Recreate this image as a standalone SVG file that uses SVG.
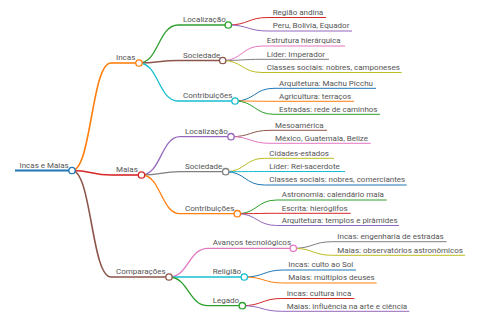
<svg xmlns="http://www.w3.org/2000/svg" width="480" height="320" viewBox="0 0 480 320">
<style>
text{font-family:Roboto,"Liberation Sans",sans-serif;font-size:8px;fill:#555}
path,line{fill:none}
circle{fill:#fff;stroke-width:1.3}
.c0{stroke:#1f77b4}.c1{stroke:#ff7f0e}.c2{stroke:#2ca02c}.c3{stroke:#d62728}.c4{stroke:#9467bd}
.c5{stroke:#8c564b}.c6{stroke:#e377c2}.c7{stroke:#7f7f7f}.c8{stroke:#bcbd22}.c9{stroke:#17becf}
.w0{stroke-width:2}.w1{stroke-width:1.6}.w2{stroke-width:1.3}.w3{stroke-width:1}
</style>
<rect width="480" height="320" fill="#fff"/>
<g id="connectors">
<path class="c1 w1" d="M72,170.5 C91.5,170.5 91.5,63 111,63"/>
<path class="c3 w1" d="M72,170.5 C91.5,170.5 91.5,175 111,175"/>
<path class="c5 w1" d="M72,170.5 C91.5,170.5 91.5,277 111,277"/>
<path class="c2 w2" d="M139,63 C158.5,63 158.5,25 178,25"/>
<path class="c5 w2" d="M139,63 C158.5,63 158.5,60.5 178,60.5"/>
<path class="c9 w2" d="M139,63 C158.5,63 158.5,101 178,101"/>
<path class="c4 w2" d="M141.5,175 C161,175 161,136.7 180,136.7"/>
<path class="c7 w2" d="M141.5,175 C161,175 161,171.7 180,171.7"/>
<path class="c1 w2" d="M141.5,175 C161,175 161,213.7 180,213.7"/>
<path class="c6 w2" d="M169,277 C188.5,277 188.5,248.3 208,248.3"/>
<path class="c9 w2" d="M169,277 C188.5,277 188.5,277 208,277"/>
<path class="c2 w2" d="M169,277 C188.5,277 188.5,305.7 208,305.7"/>
<path class="c3 w3" d="M228.3,25 C248,25 248,17.5 268,17.5"/>
<path class="c4 w3" d="M228.3,25 C248,25 248,31 268,31"/>
<path class="c6 w3" d="M222.7,60.5 C242,60.5 242,46 262,46"/>
<path class="c7 w3" d="M222.7,60.5 C242,60.5 242,59.3 262,59.3"/>
<path class="c8 w3" d="M222.7,60.5 C242,60.5 242,72.5 262,72.5"/>
<path class="c0 w3" d="M235,101 C254.5,101 254.5,88.3 274,88.3"/>
<path class="c1 w3" d="M235,101 C254.5,101 254.5,101.3 274,101.3"/>
<path class="c2 w3" d="M235,101 C254.5,101 254.5,114.3 274,114.3"/>
<path class="c5 w3" d="M231,136.7 C250.5,136.7 250.5,130.3 270,130.3"/>
<path class="c6 w3" d="M231,136.7 C250.5,136.7 250.5,143.3 270,143.3"/>
<path class="c8 w3" d="M225.7,171.7 C245,171.7 245,158.3 264.3,158.3"/>
<path class="c9 w3" d="M225.7,171.7 C245,171.7 245,171.5 264.3,171.5"/>
<path class="c0 w3" d="M225.7,171.7 C245,171.7 245,185 264.3,185"/>
<path class="c2 w3" d="M237.3,213.7 C257,213.7 257,200 276.7,200"/>
<path class="c3 w3" d="M237.3,213.7 C257,213.7 257,213.3 276.7,213.3"/>
<path class="c4 w3" d="M237.3,213.7 C257,213.7 257,225.5 276.7,225.5"/>
<path class="c7 w3" d="M293.3,248.3 C313,248.3 313,241.7 332.3,241.7"/>
<path class="c8 w3" d="M293.3,248.3 C313,248.3 313,255.3 332.3,255.3"/>
<path class="c0 w3" d="M244.3,277 C264,277 264,270 283.3,270"/>
<path class="c1 w3" d="M244.3,277 C264,277 264,283 283.3,283"/>
<path class="c3 w3" d="M242.3,305.7 C262,305.7 262,298.5 281.7,298.5"/>
<path class="c4 w3" d="M242.3,305.7 C262,305.7 262,311.3 281.7,311.3"/>
</g>
<g id="n-root"><line class="c0 w0" x1="15" y1="170.5" x2="72" y2="170.5"/><circle class="c0" cx="72" cy="170.5" r="3.2"/><text x="19.5" y="167.5">Incas e Maias</text></g>
<g id="n-incas"><line class="c1 w1" x1="111" y1="63" x2="139" y2="63"/><circle class="c1" cx="139" cy="63" r="3.2"/><text x="116" y="60">Incas</text></g>
<g id="n-maias"><line class="c3 w1" x1="111" y1="175" x2="141.5" y2="175"/><circle class="c3" cx="141.5" cy="175" r="3.2"/><text x="116" y="172">Maias</text></g>
<g id="n-comp"><line class="c5 w1" x1="111" y1="277" x2="169" y2="277"/><circle class="c5" cx="169" cy="277" r="3.2"/><text x="116" y="274">Comparações</text></g>
<g id="n-i-loc"><line class="c2 w2" x1="178" y1="25" x2="228.3" y2="25"/><circle class="c2" cx="228.3" cy="25" r="3.2"/><text x="183" y="22">Localização</text></g>
<g id="n-i-soc"><line class="c5 w2" x1="178" y1="60.5" x2="222.7" y2="60.5"/><circle class="c5" cx="222.7" cy="60.5" r="3.2"/><text x="183" y="57.5">Sociedade</text></g>
<g id="n-i-con"><line class="c9 w2" x1="178" y1="101" x2="235" y2="101"/><circle class="c9" cx="235" cy="101" r="3.2"/><text x="183" y="98">Contribuições</text></g>
<g id="n-m-loc"><line class="c4 w2" x1="180" y1="136.7" x2="231" y2="136.7"/><circle class="c4" cx="231" cy="136.7" r="3.2"/><text x="185" y="133.7">Localização</text></g>
<g id="n-m-soc"><line class="c7 w2" x1="180" y1="171.7" x2="225.7" y2="171.7"/><circle class="c7" cx="225.7" cy="171.7" r="3.2"/><text x="185" y="168.7">Sociedade</text></g>
<g id="n-m-con"><line class="c1 w2" x1="180" y1="213.7" x2="237.3" y2="213.7"/><circle class="c1" cx="237.3" cy="213.7" r="3.2"/><text x="185" y="210.7">Contribuições</text></g>
<g id="n-c-ava"><line class="c6 w2" x1="208" y1="248.3" x2="293.3" y2="248.3"/><circle class="c6" cx="293.3" cy="248.3" r="3.2"/><text x="212.7" y="245.3">Avanços tecnológicos</text></g>
<g id="n-c-rel"><line class="c9 w2" x1="208" y1="277" x2="244.3" y2="277"/><circle class="c9" cx="244.3" cy="277" r="3.2"/><text x="212.7" y="274">Religião</text></g>
<g id="n-c-leg"><line class="c2 w2" x1="208" y1="305.7" x2="242.3" y2="305.7"/><circle class="c2" cx="242.3" cy="305.7" r="3.2"/><text x="212.7" y="302.7">Legado</text></g>
<g id="l1"><line class="c3 w3" x1="268" y1="17.5" x2="326" y2="17.5"/><text x="272.7" y="15">Região andina</text></g>
<g id="l2"><line class="c4 w3" x1="268" y1="31" x2="352" y2="31"/><text x="272.7" y="28.3">Peru, Bolívia, Equador</text></g>
<g id="l3"><line class="c6 w3" x1="262" y1="46" x2="345" y2="46"/><text x="266.7" y="43.3">Estrutura hierárquica</text></g>
<g id="l4"><line class="c7 w3" x1="262" y1="59.3" x2="329" y2="59.3"/><text x="266.7" y="56.6">Líder: Imperador</text></g>
<g id="l5"><line class="c8 w3" x1="262" y1="72.5" x2="401.7" y2="72.5"/><text x="266.7" y="69.8">Classes sociais: nobres, camponeses</text></g>
<g id="l6"><line class="c0 w3" x1="274" y1="88.3" x2="376" y2="88.3"/><text x="279" y="85.6">Arquitetura: Machu Picchu</text></g>
<g id="l7"><line class="c1 w3" x1="274" y1="101.3" x2="354" y2="101.3"/><text x="279" y="98.6">Agricultura: terraços</text></g>
<g id="l8"><line class="c2 w3" x1="274" y1="114.3" x2="380" y2="114.3"/><text x="279" y="111.6">Estradas: rede de caminhos</text></g>
<g id="l9"><line class="c5 w3" x1="270" y1="130.3" x2="327" y2="130.3"/><text x="275" y="127.6">Mesoamérica</text></g>
<g id="l10"><line class="c6 w3" x1="270" y1="143.3" x2="370.7" y2="143.3"/><text x="275" y="140.6">México, Guatemala, Belize</text></g>
<g id="l11"><line class="c8 w3" x1="264.3" y1="158.3" x2="334" y2="158.3"/><text x="269.3" y="155.6">Cidades-estados</text></g>
<g id="l12"><line class="c9 w3" x1="264.3" y1="171.5" x2="345" y2="171.5"/><text x="269.3" y="168.8">Líder: Rei-sacerdote</text></g>
<g id="l13"><line class="c0 w3" x1="264.3" y1="185" x2="406.7" y2="185"/><text x="269.3" y="182.3">Classes sociais: nobres, comerciantes</text></g>
<g id="l14"><line class="c2 w3" x1="276.7" y1="200" x2="386.7" y2="200"/><text x="281.7" y="197.3">Astronomia: calendário maia</text></g>
<g id="l15"><line class="c3 w3" x1="276.7" y1="213.3" x2="350.7" y2="213.3"/><text x="281.7" y="210.6">Escrita: hieróglifos</text></g>
<g id="l16"><line class="c4 w3" x1="276.7" y1="225.5" x2="399" y2="225.5"/><text x="281.7" y="222.8">Arquitetura: templos e pirâmides</text></g>
<g id="l17"><line class="c7 w3" x1="332.3" y1="241.7" x2="446.7" y2="241.7"/><text x="337.3" y="239">Incas: engenharia de estradas</text></g>
<g id="l18"><line class="c8 w3" x1="332.3" y1="255.3" x2="465" y2="255.3"/><text x="337.3" y="252.6">Maias: observatórios astronômicos</text></g>
<g id="l19"><line class="c0 w3" x1="283.3" y1="270" x2="356" y2="270"/><text x="288.3" y="267.3">Incas: culto ao Sol</text></g>
<g id="l20"><line class="c1 w3" x1="283.3" y1="283" x2="376.7" y2="283"/><text x="288.3" y="280.3">Maias: múltiplos deuses</text></g>
<g id="l21"><line class="c3 w3" x1="281.7" y1="298.5" x2="354.3" y2="298.5"/><text x="286.7" y="295.8">Incas: cultura inca</text></g>
<g id="l22"><line class="c4 w3" x1="281.7" y1="311.3" x2="409.3" y2="311.3"/><text x="286.7" y="308.6">Maias: influência na arte e ciência</text></g>
</svg>
